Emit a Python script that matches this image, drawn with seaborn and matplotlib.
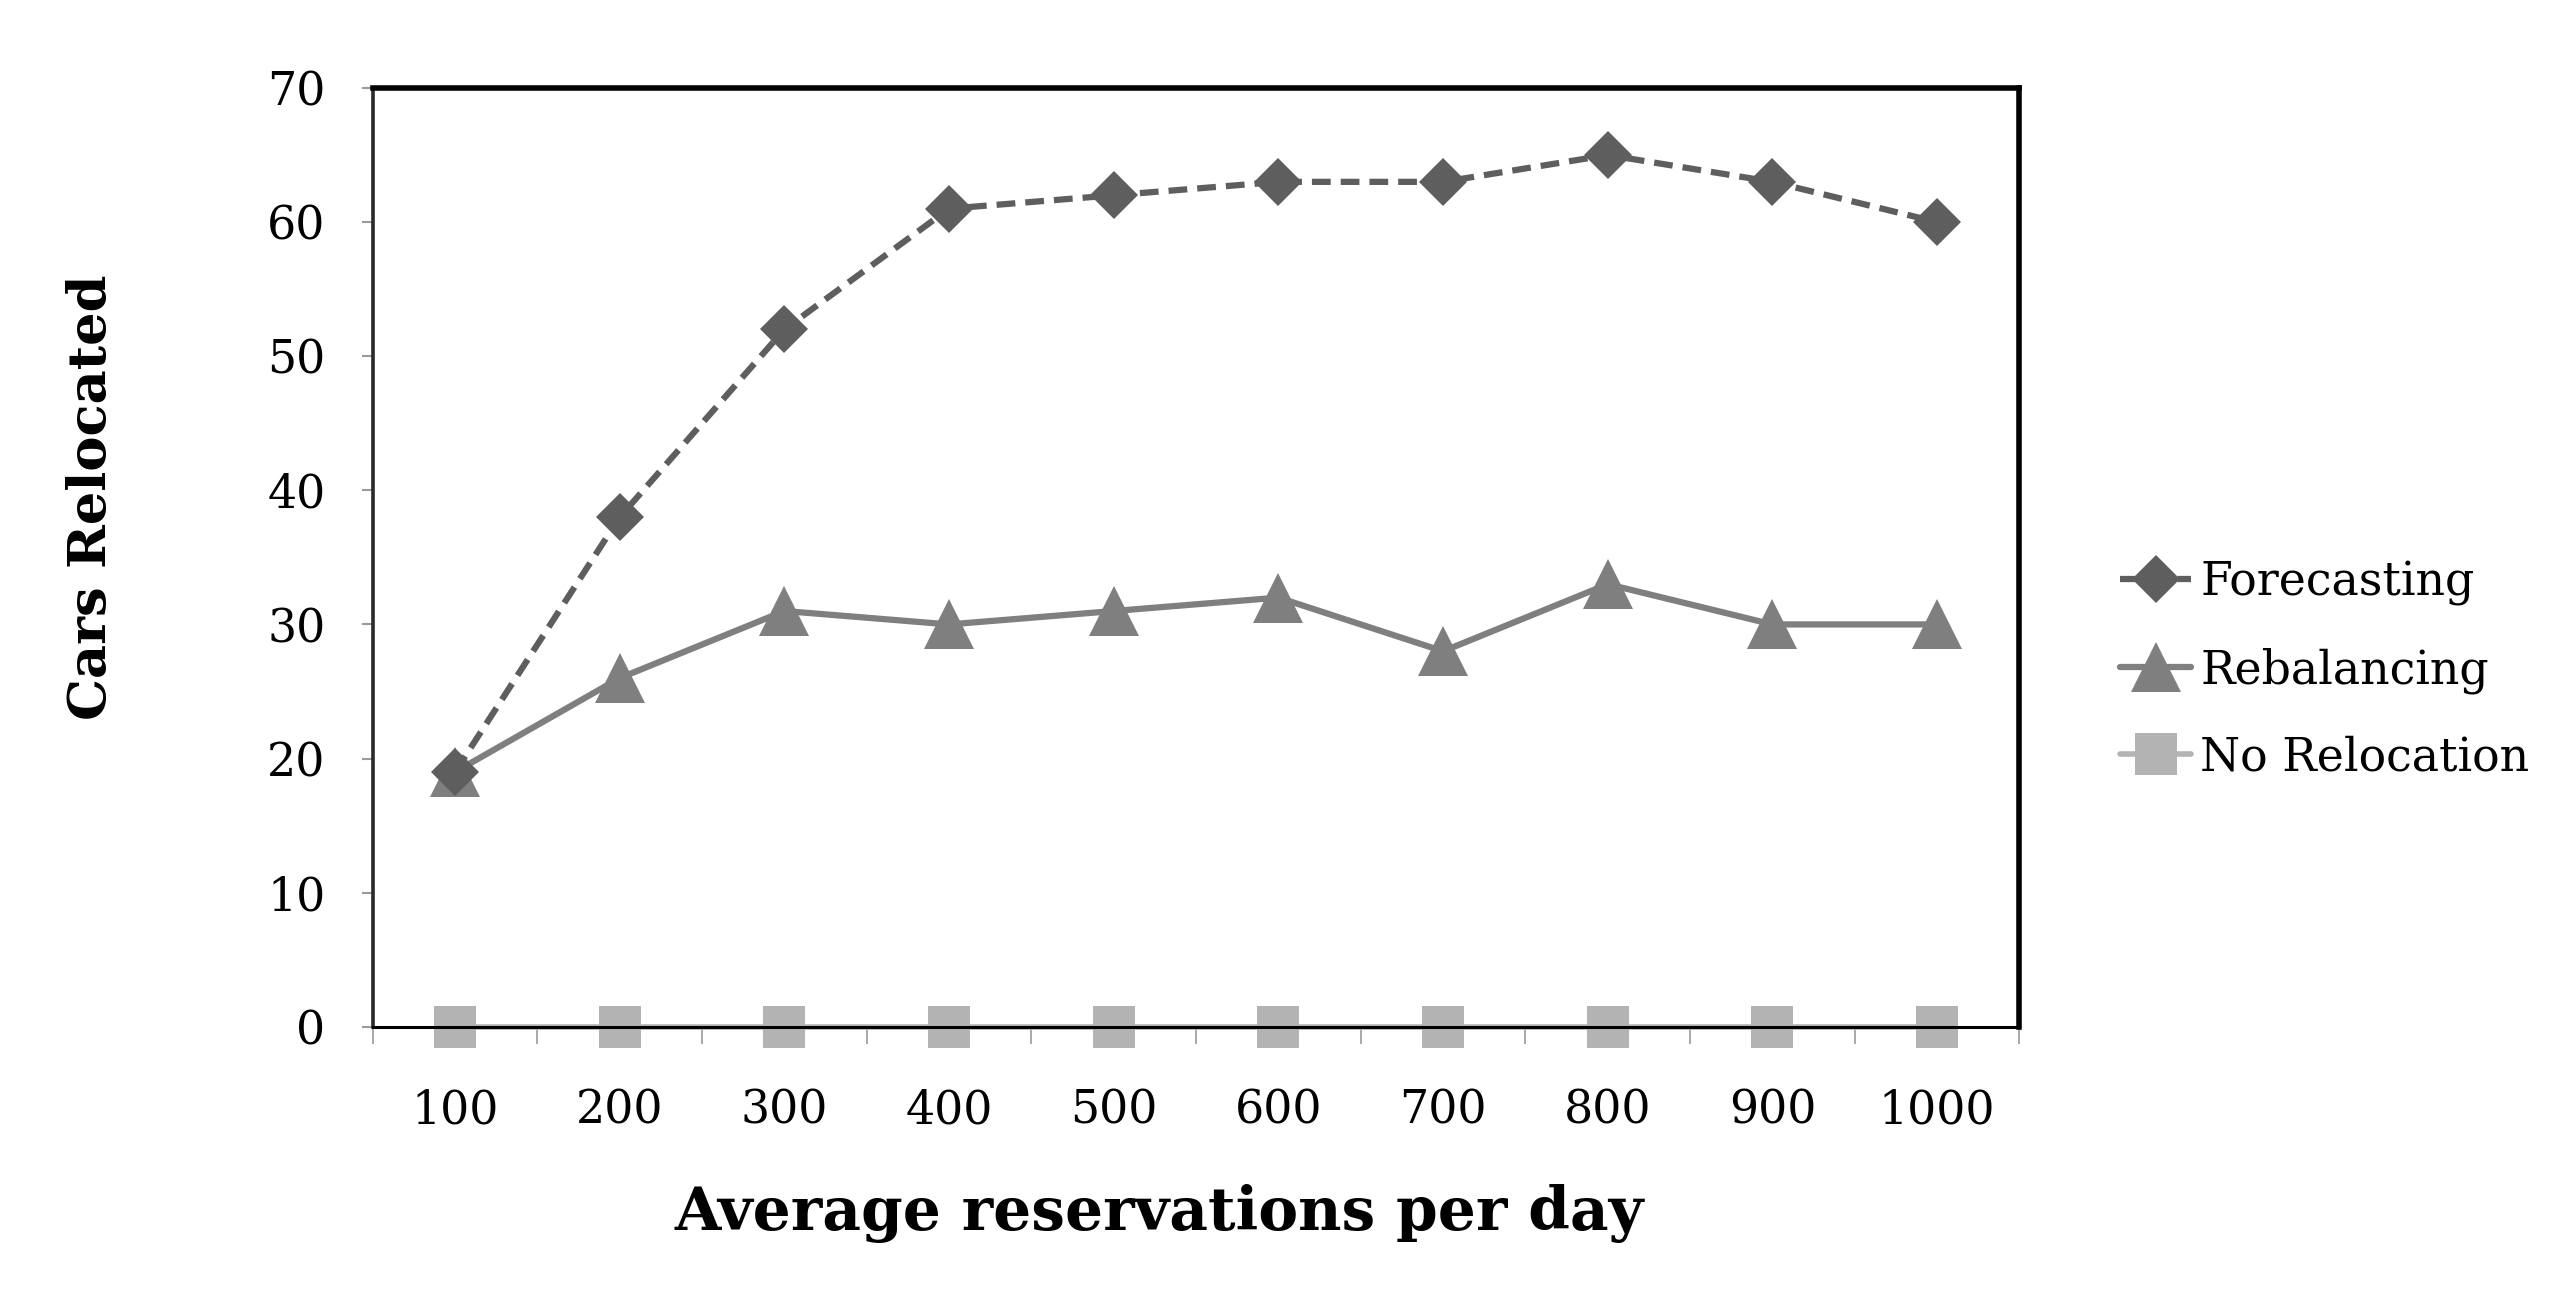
import matplotlib
matplotlib.use("Agg")
import matplotlib.pyplot as plt
import seaborn as sns
import pandas as pd
from matplotlib.ticker import FixedLocator

categories = ["100", "200", "300", "400", "500", "600", "700", "800", "900", "1000"]
forecasting = [19, 38, 52, 61, 62, 63, 63, 65, 63, 60]
rebalancing = [19, 26, 31, 30, 31, 32, 28, 33, 30, 30]
no_relocation = [0, 0, 0, 0, 0, 0, 0, 0, 0, 0]
y_ticks = [0, 10, 20, 30, 40, 50, 60, 70]

sns.set_theme(style="white")
plt.rcParams["font.family"] = ["DejaVu Serif"]
plt.rcParams["text.color"] = "black"
plt.rcParams["axes.labelcolor"] = "black"

fig = plt.figure(figsize=(25.53, 13.13), dpi=100)
ax = fig.add_axes([0.146, 0.218, 0.645, 0.715])

df_f = pd.DataFrame({"x": categories, "y": forecasting})
df_r = pd.DataFrame({"x": categories, "y": rebalancing})
df_n = pd.DataFrame({"x": categories, "y": no_relocation})

sns.lineplot(data=df_n, x="x", y="y", sort=False, ax=ax, color="#b3b3b3",
             linewidth=4, marker="s", markersize=30, markeredgewidth=0,
             label="No Relocation", clip_on=False, zorder=3)
sns.lineplot(data=df_r, x="x", y="y", sort=False, ax=ax, color="#7f7f7f",
             linewidth=4.5, marker="^", markersize=36, markeredgewidth=0,
             label="Rebalancing", clip_on=False, zorder=4)
sns.lineplot(data=df_f, x="x", y="y", sort=False, ax=ax, color="#5e5e5e",
             linewidth=4.5, linestyle=(0, (3, 1.6)), marker="D", markersize=24,
             markeredgewidth=0, label="Forecasting", clip_on=False, zorder=5)

ax.set_xlim(-0.5, len(categories) - 0.5)
ax.set_ylim(0, 70)
ax.set_yticks(y_ticks)
ax.xaxis.set_minor_locator(FixedLocator([i - 0.5 for i in range(len(categories) + 1)]))

ax.tick_params(axis="x", which="major", length=0, pad=44, labelsize=33, labelcolor="black")
ax.tick_params(axis="x", which="minor", length=12, width=1.2, color="#9a9a9a", bottom=True)
ax.tick_params(axis="y", which="major", length=8, width=1.5, color="#9a9a9a", pad=26,
               labelsize=33, left=True, labelcolor="black")

for side in ["top", "right"]:
    ax.spines[side].set_linewidth(4)
    ax.spines[side].set_color("black")
ax.spines["left"].set_linewidth(2.6)
ax.spines["left"].set_color("#2a2a2a")
ax.spines["bottom"].set_linewidth(2.2)
ax.spines["bottom"].set_color("black")
ax.spines["bottom"].set_zorder(3.5)

ax.set_xlabel("Average reservations per day", fontsize=43, fontweight="bold", color="black")
ax.xaxis.set_label_coords(0.4775, -0.168)
ax.set_ylabel("Cars Relocated", fontsize=38, fontweight="bold", color="black")
ax.yaxis.set_label_coords(-0.1555, 0.564)

handles, labels = ax.get_legend_handles_labels()
order = [labels.index(l) for l in ["Forecasting", "Rebalancing", "No Relocation"]]
ax.legend([handles[i] for i in order], [labels[i] for i in order],
          loc="center left", bbox_to_anchor=(1.05, 0.38), frameon=False,
          fontsize=33, handlelength=1.55, handletextpad=0.2, labelspacing=0.9,
          borderaxespad=0)

fig.savefig("out.png", dpi=100)
